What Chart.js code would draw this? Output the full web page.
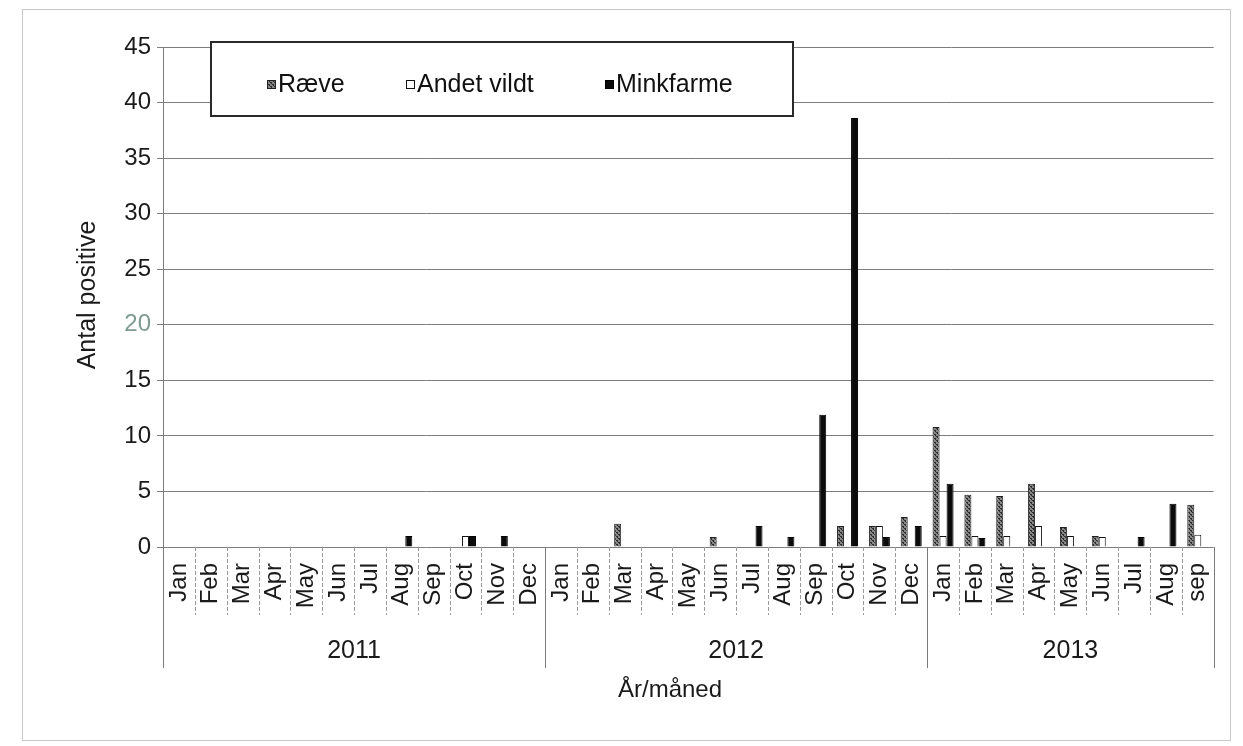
<!DOCTYPE html>
<html>
<head>
<meta charset="utf-8">
<script src="https://cdn.jsdelivr.net/npm/chart.js@4.4.1/dist/chart.umd.min.js"></script>
<style>
  html, body { margin: 0; padding: 0; background: #ffffff; }
  #wrap { width: 1243px; height: 746px; position: relative; }
</style>
</head>
<body>
<div id="wrap"><canvas id="c" width="1243" height="746"></canvas></div>
<script>
// Months, grouped by year (2011 Jan – 2013 Sep)
const months = [
  'Jan','Feb','Mar','Apr','May','Jun','Jul','Aug','Sep','Oct','Nov','Dec',
  'Jan','Feb','Mar','Apr','May','Jun','Jul','Aug','Sep','Oct','Nov','Dec',
  'Jan','Feb','Mar','Apr','May','Jun','Jul','Aug','sep'
];
const years = ['2011', '2012', '2013'];
const monthsPerYear = [12, 12, 9];

// Number of positive findings per month
const raeve = [
  0, 0, 0, 0, 0, 0, 0, 0, 0, 0, 0, 0,
  0, 0, 2.1, 0, 0, 0.9, 0, 0, 0, 1.9, 1.9, 2.7,
  10.8, 4.7, 4.6, 5.7, 1.8, 1, 0, 0, 3.8
];
const andetVildt = [
  0, 0, 0, 0, 0, 0, 0, 0, 0, 1, 0, 0,
  0, 0, 0, 0, 0, 0, 0, 0, 0, 0, 1.9, 0,
  1, 1, 1, 1.9, 1, 0.9, 0, 0, 1.1
];
const minkfarme = [
  0, 0, 0, 0, 0, 0, 0, 1, 0, 1, 1, 0,
  0, 0, 0, 0, 0, 0, 1.9, 0.9, 11.9, 38.6, 0.9, 1.9,
  5.7, 0.8, 0, 0, 0, 0, 0.9, 3.9, 0
];

const seriesNames = ['Ræve', 'Andet vildt', 'Minkfarme'];
const yAxisTitle = 'Antal positive';
const xAxisTitle = 'År/måned';
const yMin = 0, yMax = 45, yStep = 5;

const FONT = "'Liberation Sans', Arial, sans-serif";

// Speckled dark-grey fill used for the fox series
function makeFoxPattern(ctx) {
  const p = document.createElement('canvas');
  p.width = 4; p.height = 4;
  const g = p.getContext('2d');
  g.fillStyle = '#858585';
  g.fillRect(0, 0, 4, 4);
  g.fillStyle = '#2e2e2e';
  g.fillRect(0, 0, 2, 1);
  g.fillRect(2, 2, 2, 1);
  g.fillRect(1, 1, 1, 1);
  g.fillRect(3, 3, 1, 1);
  return ctx.createPattern(p, 'repeat');
}

const canvas = document.getElementById('c');
const ctx = canvas.getContext('2d');
const foxFill = makeFoxPattern(ctx);

const seriesStyles = [
  { fill: foxFill, border: '#222222' },
  { fill: '#ffffff', border: '#111111' },
  { fill: '#0b0b0b', border: '#000000' }
];

// Frame, year grouping, axis titles and legend box
const decorations = {
  id: 'decorations',
  afterDraw(chart) {
    const c = chart.ctx;
    const xs = chart.scales.x;
    const area = chart.chartArea;
    const catW = xs.width / months.length;
    const edge = i => xs.getPixelForValue(i) - catW / 2;
    const base = area.bottom;

    c.save();

    // outer frame
    c.strokeStyle = '#c9c9c9';
    c.lineWidth = 1;
    c.strokeRect(22.5, 9.5, 1208, 731);

    // month separators and year separators under the axis
    const yearEdges = [0];
    monthsPerYear.forEach((n, i) => yearEdges.push(yearEdges[i] + n));
    for (let i = 0; i <= months.length; i++) {
      const x = Math.round(edge(i)) + 0.5;
      const isYear = yearEdges.includes(i);
      c.beginPath();
      c.strokeStyle = isYear ? '#7a7a7a' : '#9a9a9a';
      c.setLineDash(isYear ? [] : [4, 2]);
      c.moveTo(x, base);
      c.lineTo(x, isYear ? 668 : 615);
      c.stroke();
    }
    c.setLineDash([]);

    // year labels
    c.fillStyle = '#1a1a1a';
    c.font = '25px ' + FONT;
    c.textAlign = 'center';
    c.textBaseline = 'middle';
    years.forEach((y, i) => {
      const x0 = edge(yearEdges[i]);
      const x1 = edge(yearEdges[i + 1]);
      c.fillText(y, (x0 + x1) / 2, 651);
    });

    // axis titles
    c.font = '24px ' + FONT;
    c.fillText(xAxisTitle, 670, 690);
    c.save();
    c.translate(88, 295);
    c.rotate(-Math.PI / 2);
    c.font = '25px ' + FONT;
    c.fillText(yAxisTitle, 0, 0);
    c.restore();

    // legend box
    const bx = 211, by = 42, bw = 582, bh = 74;
    c.fillStyle = '#ffffff';
    c.fillRect(bx, by, bw, bh);
    c.strokeStyle = '#2a2a2a';
    c.lineWidth = 2;
    c.strokeRect(bx, by, bw, bh);
    const itemX = [267, 406, 605];
    const cy = 85;
    c.font = '25px ' + FONT;
    c.textAlign = 'left';
    c.textBaseline = 'middle';
    seriesNames.forEach((name, i) => {
      const s = seriesStyles[i];
      c.fillStyle = s.fill;
      c.fillRect(itemX[i], cy - 5, 9, 9);
      c.strokeStyle = s.border;
      c.lineWidth = 1;
      c.strokeRect(itemX[i] + 0.5, cy - 4.5, 8, 8);
      c.fillStyle = '#111111';
      c.fillText(name, itemX[i] + 11, cy);
    });

    c.restore();
  }
};

new Chart(ctx, {
  type: 'bar',
  data: {
    labels: months,
    datasets: [raeve, andetVildt, minkfarme].map((vals, i) => ({
      label: seriesNames[i],
      data: vals,
      backgroundColor: seriesStyles[i].fill,
      borderColor: seriesStyles[i].border,
      borderWidth: 1
    }))
  },
  options: {
    responsive: false,
    animation: false,
    devicePixelRatio: 1,
    layout: { padding: { left: 0, right: 28, top: 47, bottom: 0 } },
    datasets: { bar: { categoryPercentage: 0.66, barPercentage: 1 } },
    plugins: { legend: { display: false }, tooltip: { enabled: false } },
    scales: {
      x: {
        offset: true,
        grid: { display: false, drawTicks: false },
        border: { display: false },
        ticks: {
          autoSkip: false,
          minRotation: 90,
          maxRotation: 90,
          padding: 16,
          color: '#1a1a1a',
          font: { family: FONT, size: 24 }
        },
        afterFit(scale) { scale.height = 199; }
      },
      y: {
        min: yMin,
        max: yMax,
        ticks: {
          stepSize: yStep,
          padding: 6,
          color: t => (t.tick && t.tick.value === 20 ? '#7f9a90' : '#1a1a1a'),
          font: { family: FONT, size: 24 }
        },
        grid: { color: '#7e7e7e', lineWidth: 1, tickLength: 6, drawTicks: true },
        border: { color: '#7e7e7e', width: 1 },
        afterFit(scale) { scale.width = 163; }
      }
    }
  },
  plugins: [decorations]
});
</script>
</body>
</html>
